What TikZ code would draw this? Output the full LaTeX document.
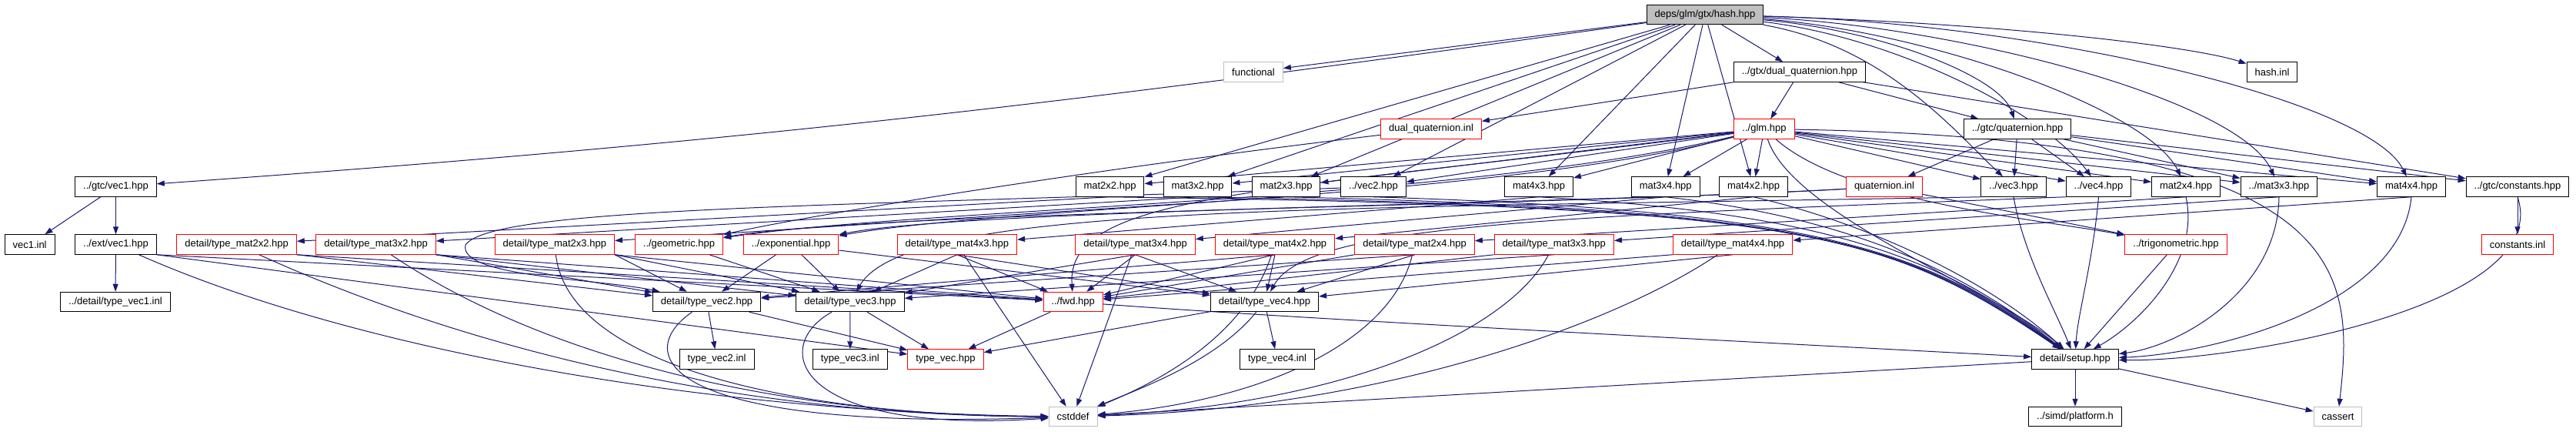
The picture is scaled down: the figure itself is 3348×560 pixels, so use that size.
\documentclass[tikz,border=0pt]{standalone}
\usepackage{fontspec}
\setmainfont{Liberation Sans}
\usetikzlibrary{arrows.meta}
\definecolor{edgeblue}{HTML}{191970}
\definecolor{sysgray}{HTML}{BFBFBF}
\definecolor{truncred}{HTML}{FF0000}
\pgfdeclarelayer{bg}
\pgfsetlayers{bg,main}

\begin{document}
\begin{tikzpicture}[x=1pt, y=-1pt,
    inc/.style={draw=black, fill=white, line width=1pt, minimum height=25.5pt,
        inner xsep=10.5pt, inner ysep=2pt, font=\fontsize{13}{15}\selectfont},
    incred/.style={inc, draw=truncred},
    incsys/.style={inc, draw=sysgray},
    incroot/.style={inc, fill=sysgray},
    dep/.style={draw=edgeblue, line width=1pt, -{Triangle[length=10pt, width=7pt]}}]
    \useasboundingbox (0,0) rectangle (3348,560);

    \node[incroot] (root) at (2216,19) {deps/glm/gtx/hash.hpp};
    \node[incsys] (functional) at (1629,93.5) {functional};
    \node[inc] (dq) at (2339,93.5) {../gtx/dual\_quaternion.hpp};
    \node[inc] (hashinl) at (2953,93.5) {hash.inl};
    \node[incred] (dqinl) at (1860,167.5) {dual\_quaternion.inl};
    \node[incred] (glm) at (2293,167.5) {../glm.hpp};
    \node[inc] (gtcquat) at (2622,167.5) {../gtc/quaternion.hpp};

    \node[inc] (gtcvec1) at (150.5,242.5) {../gtc/vec1.hpp};
    \node[inc] (mat2x2) at (1442.5,242.5) {mat2x2.hpp};
    \node[inc] (mat3x2) at (1556.5,242.5) {mat3x2.hpp};
    \node[inc] (mat2x3) at (1671.5,242.5) {mat2x3.hpp};
    \node[inc] (vec2) at (1785,242.5) {../vec2.hpp};
    \node[inc] (mat4x3) at (2000,242.5) {mat4x3.hpp};
    \node[inc] (mat3x4) at (2164.7,242.5) {mat3x4.hpp};
    \node[inc] (mat4x2) at (2279,242.5) {mat4x2.hpp};
    \node[incred] (quatinl) at (2449,242.5) {quaternion.inl};
    \node[inc] (vec3) at (2617,242.5) {../vec3.hpp};
    \node[inc] (vec4) at (2727.5,242.5) {../vec4.hpp};
    \node[inc] (mat2x4) at (2841,242.5) {mat2x4.hpp};
    \node[inc] (mat3x3) at (2962,242.5) {../mat3x3.hpp};
    \node[inc] (mat4x4) at (3134,242.5) {mat4x4.hpp};
    \node[inc] (constants) at (3272,242.5) {../gtc/constants.hpp};

    \node[inc] (vec1inl) at (38.6,317.5) {vec1.inl};
    \node[inc] (extvec1) at (150.5,317.5) {../ext/vec1.hpp};
    \node[incred] (tm2x2) at (307.6,317.5) {detail/type\_mat2x2.hpp};
    \node[incred] (tm3x2) at (488.6,317.5) {detail/type\_mat3x2.hpp};
    \node[incred] (tm2x3) at (720.8,317.5) {detail/type\_mat2x3.hpp};
    \node[incred] (geometric) at (882.5,317.5) {../geometric.hpp};
    \node[incred] (exponential) at (1028,317.5) {../exponential.hpp};
    \node[incred] (tm4x3) at (1243.8,317.5) {detail/type\_mat4x3.hpp};
    \node[incred] (tm3x4) at (1475.6,317.5) {detail/type\_mat3x4.hpp};
    \node[incred] (tm4x2) at (1657,317.5) {detail/type\_mat4x2.hpp};
    \node[incred] (tm2x4) at (1838.6,317.5) {detail/type\_mat2x4.hpp};
    \node[incred] (tm3x3) at (2019.7,317.5) {detail/type\_mat3x3.hpp};
    \node[incred] (tm4x4) at (2252,317.5) {detail/type\_mat4x4.hpp};
    \node[incred] (trig) at (2828,317.5) {../trigonometric.hpp};
    \node[incred] (constinl) at (3272,317.5) {constants.inl};

    \node[inc] (tvec1inl) at (150,392) {../detail/type\_vec1.inl};
    \node[inc] (tvec2) at (918.6,392) {detail/type\_vec2.hpp};
    \node[inc] (tvec3) at (1105,392) {detail/type\_vec3.hpp};
    \node[incred] (fwd) at (1394.7,392) {../fwd.hpp};
    \node[inc] (tvec4) at (1643.5,392) {detail/type\_vec4.hpp};

    \node[inc] (tvec2inl) at (931.6,466.5) {type\_vec2.inl};
    \node[inc] (tvec3inl) at (1104.8,466.5) {type\_vec3.inl};
    \node[incred] (tvec) at (1229,466.5) {type\_vec.hpp};
    \node[inc] (tvec4inl) at (1660,466.5) {type\_vec4.inl};
    \node[inc] (setup) at (2697,466.5) {detail/setup.hpp};

    \node[incsys] (cstddef) at (1394.6,541) {cstddef};
    \node[inc] (platform) at (2697,541) {../simd/platform.h};
    \node[incsys] (cassert) at (3038.5,541) {cassert};

    \begin{pgfonlayer}{bg}
    \draw[dep] (root) .. controls (1386,135) and (963,185) .. (gtcvec1);
    \foreach \t in {functional,mat2x2,mat3x2,mat2x3,vec2,mat4x3,mat3x4,mat4x2,dq}
        \draw[dep] (root) -- (\t);
    \foreach \t/\ax/\ay/\bx/\by in {gtcquat/2450/40/2600/100,vec3/2450/60/2540/170,
        vec4/2470/50/2660/150,mat2x4/2500/40/2790/140,mat3x3/2550/35/2910/130,
        mat4x4/2650/30/3080/130,hashinl/2600/30/2850/60}
        \draw[dep] (root) .. controls (\ax,\ay) and (\bx,\by) .. (\t);

    \foreach \t in {glm,gtcquat,dqinl,constants}
        \draw[dep] (dq) -- (\t);
    \draw[dep] (dqinl) .. controls (1400,222) and (1050,280) .. (geometric);

    \foreach \t in {mat2x2,mat3x2,mat2x3,vec2,mat4x3,mat3x4,mat4x2,vec3,vec4,mat2x4,mat3x3,mat4x4}
        \draw[dep] (glm) -- (\t);
    \draw[dep] (glm) .. controls (1900,262) and (1200,270) .. (geometric);
    \draw[dep] (glm) .. controls (1950,258) and (1300,268) .. (exponential);
    \draw[dep] (glm) .. controls (2400,262) and (2650,285) .. (trig);
    \draw[dep] (glm) .. controls (1650,250) and (1385,250) .. (fwd);
    \draw[dep] (glm) .. controls (2330,280) and (2600,380) .. (setup);
    \draw[dep] (glm) .. controls (3060,180) and (3060,350) .. (cassert);

    \foreach \t in {quatinl,vec3,vec4,mat3x3,mat4x4,constants}
        \draw[dep] (gtcquat) -- (\t);
    \draw[dep] (quatinl) -- (trig);
    \draw[dep] (quatinl) .. controls (2000,268) and (1150,274) .. (geometric);
    \draw[dep] (quatinl) .. controls (2050,265) and (1250,272) .. (exponential);

    \draw[dep] (gtcvec1) -- (vec1inl);
    \draw[dep] (gtcvec1) -- (extvec1);
    \draw[dep] (extvec1) -- (tvec1inl);
    \draw[dep] (extvec1.south east) -- (fwd);
    \draw[dep] (extvec1.south east) -- (tvec);

    \foreach \s/\t in {mat2x2/tm2x2,mat3x2/tm3x2,mat2x3/tm2x3,mat4x3/tm4x3,mat3x4/tm3x4,mat4x2/tm4x2,mat2x4/tm2x4,mat3x3/tm3x3,mat4x4/tm4x4}
        \draw[dep] (\s.south) -- (\t);

    \draw[dep] (vec2) .. controls (1100,268) and (640,268) .. (605,318)
        .. controls (595,360) and (780,362) .. (tvec2);
    \draw[dep] (vec3.south west) .. controls (1700,272) and (1180,265) .. (tvec3);
    \draw[dep] (vec4.south west) .. controls (2000,282) and (1700,292) .. (tvec4);

    \foreach \s/\ax/\ay/\bx/\by in {mat2x2/2350/268/2450/300,mat3x2/2360/270/2470/310,
        mat2x3/2370/272/2490/320,vec2/2380/274/2510/330,mat4x3/2390/278/2530/340,
        mat3x4/2400/282/2550/350,mat4x2/2420/288/2580/360,vec3/2630/330/2670/400,
        vec4/2720/340/2700/410,mat2x4/2860/340/2780/420,mat3x3/2960/380/2830/450,
        mat4x4/3120/400/2870/460,constants/3320/400/2900/470}
        \draw[dep] (\s.south) .. controls (\ax,\ay) and (\bx,\by) .. (setup);
    \draw[dep] (trig) -- (setup);
    \draw[dep] (fwd) .. controls (1700,415) and (2300,445) .. (setup);

    \draw[dep] (constants) -- (constinl);
    \draw[dep] (setup) -- (platform);
    \draw[dep] (setup) -- (cassert);
    \draw[dep] (setup) -- (cstddef);

    \foreach \s/\t in {tm2x2/fwd,tm3x2/fwd,tm2x3/fwd,tm2x2/tvec2,tm3x2/tvec2,tm3x2/tvec3,tm2x3/tvec2,tm2x3/tvec3}
        \draw[dep] (\s.south east) -- (\t);
    \foreach \s/\t in {tm4x3/fwd,tm3x4/fwd,tm4x2/fwd,tm4x3/tvec3,tm4x3/tvec4,tm3x4/tvec3,tm3x4/tvec4,tm4x2/tvec2,tm4x2/tvec4,tm2x4/tvec2,tm2x4/tvec4,tm3x3/tvec3,tm4x4/tvec4}
        \draw[dep] (\s.south) -- (\t);
    \foreach \s in {tm2x4,tm3x3,tm4x4}
        \draw[dep] (\s.south west) -- (fwd);

    \draw[dep] (geometric) -- (tvec3);
    \foreach \t in {tvec2,tvec3,tvec4}
        \draw[dep] (exponential) -- (\t);

    \draw[dep] (tvec2) -- (tvec2inl);
    \draw[dep] (tvec3) -- (tvec3inl);
    \draw[dep] (tvec4) -- (tvec4inl);
    \foreach \s in {tvec2,tvec3,fwd,tvec4}
        \draw[dep] (\s) -- (tvec);

    \draw[dep] (extvec1) .. controls (450,450) and (900,535) .. (cstddef);
    \draw[dep] (tm2x2) .. controls (600,450) and (950,540) .. (cstddef);
    \draw[dep] (tm3x2) .. controls (700,460) and (1000,540) .. (cstddef);
    \draw[dep] (tm2x3) .. controls (740,480) and (1050,540) .. (cstddef);
    \draw[dep] (tvec2) .. controls (820,460) and (860,560) .. (cstddef);
    \draw[dep] (tvec3) .. controls (1000,450) and (1030,565) .. (cstddef);
    \draw[dep] (tm4x3) -- (cstddef);
    \draw[dep] (tm3x4) -- (cstddef);
    \draw[dep] (tvec4) .. controls (1580,470) and (1480,505) .. (cstddef);
    \draw[dep] (tm4x2) .. controls (1620,430) and (1520,490) .. (cstddef);
    \draw[dep] (tm2x4) .. controls (1810,440) and (1650,520) .. (cstddef);
    \draw[dep] (tm3x3) .. controls (1960,430) and (1750,525) .. (cstddef);
    \draw[dep] (tm4x4) .. controls (2100,420) and (1800,530) .. (cstddef);
    \end{pgfonlayer}
\end{tikzpicture}
\end{document}
